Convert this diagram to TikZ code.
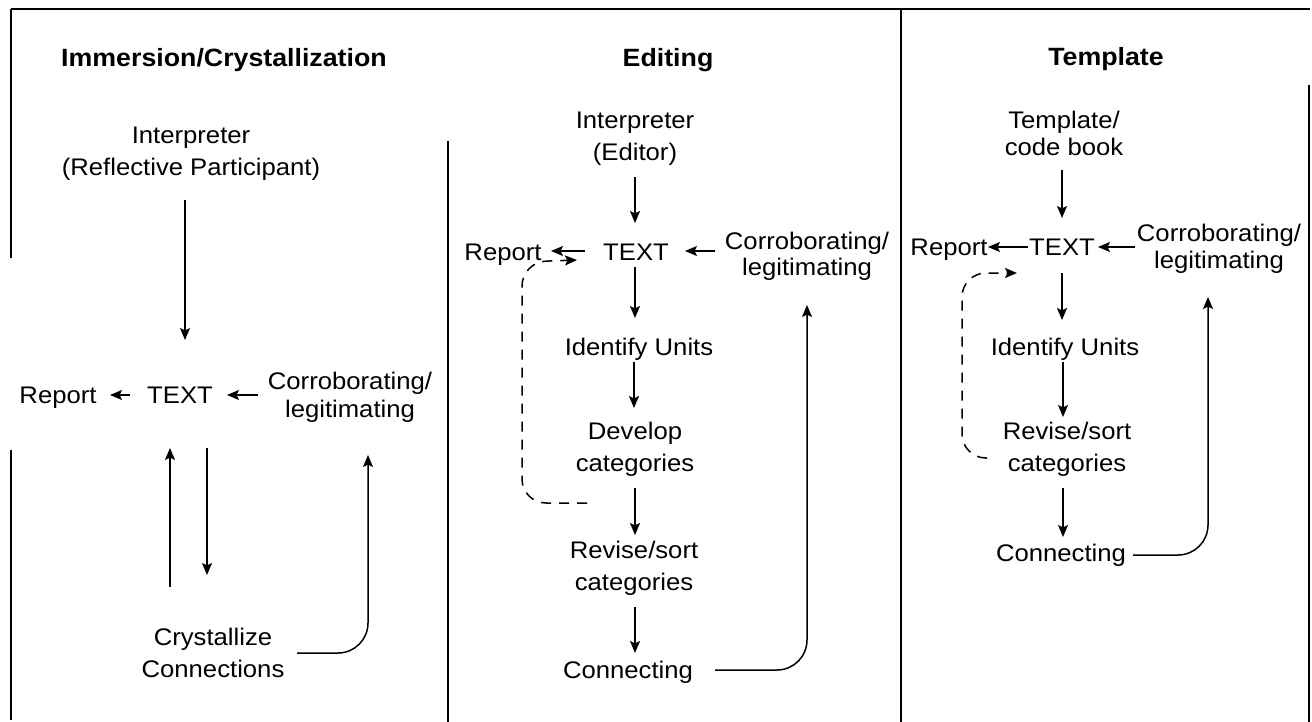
\documentclass[tikz,border=0pt]{standalone}
\usepackage{fontspec}
\setmainfont{Liberation Sans}[FakeStretch=1.07]
\usetikzlibrary{arrows.meta,calc}
\begin{document}
\begin{tikzpicture}[x=0.5pt,y=-0.5pt,
  lbl/.style={inner sep=0pt, align=center, font=\fontsize{12}{16}\selectfont},
  one/.style={lbl, text height=8.6pt, text depth=0pt},
  ttl/.style={one, font=\fontsize{12.5}{15}\selectfont\bfseries},
  arr/.style={line width=0.75pt, -{Stealth[length=6pt,width=5pt,inset=1.2pt]}},
  darr/.style={arr, dash pattern=on 5pt off 4pt, rounded corners=12pt},
  curvedarr/.style={arr, rounded corners=15pt},
  frame/.style={line width=0.9pt}]

\useasboundingbox (0,0) rectangle (1312,722);

% panel rules
\draw[frame] (11,9) -- (1310,9);
\draw[frame] (11,9) -- (11,258);
\draw[frame] (11,450) -- (11,720);
\draw[frame] (448,141) -- (448,722);
\draw[frame] (901,9) -- (901,722);
\draw[frame] (1309,85) -- (1309,722);

% ---- Immersion/Crystallization ----
\node[ttl] (ltitle) at (224,58) {Immersion/Crystallization};
\node[lbl] (linterp) at (191,154) {Interpreter\\(Reflective Participant)};
\node[one] (lrep) at (58,395) {Report};
\node[one] (ltext) at (180,395) {TEXT};
\node[lbl, font=\fontsize{12}{14}\selectfont] (lcorr) at (350,397) {Corroborating/\\legitimating};
\node[lbl] (lcryst) at (213,653) {Crystallize\\Connections};

\draw[arr] ($(linterp)+(-6,46)$) -- ($(ltext)+(5,-55)$);
\draw[arr] ($(ltext)+(-50,0)$) -- ($(lrep)+(52,0)$);
\draw[arr] ($(lcorr)+(-92,-2)$) -- ($(ltext)+(47,0)$);
\draw[arr] ($(ltext)+(27,53)$) -- ($(lcryst)+(-6,-78)$);
\draw[arr] ($(lcryst)+(-43,-66)$) -- ($(ltext)+(-10,53)$);
\draw[curvedarr] ($(lcryst)+(84,0)$) -| ($(lcorr)+(18,58)$);

% ---- Editing ----
\node[ttl] (mtitle) at (668,58) {Editing};
\node[lbl] (minterp) at (635,139) {Interpreter\\(Editor)};
\node[one] (mrep) at (503,252) {Report};
\node[one] (mtext) at (636,252) {TEXT};
\node[lbl, font=\fontsize{12}{13}\selectfont] (mcorr) at (807,256) {Corroborating/\\legitimating};
\node[one] (munits) at (639,347) {Identify Units};
\node[lbl] (mdev) at (635,449) {Develop\\categories};
\node[lbl] (mrev) at (634,568) {Revise/sort\\categories};
\node[one] (mconn) at (628,670) {Connecting};

\draw[arr] ($(minterp)+(0,38)$) -- ($(mtext)+(-1,-29)$);
\draw[arr] ($(mtext)+(-51,-1)$) -- ($(mrep)+(48,-1)$);
\draw[arr] ($(mcorr)+(-92,-5)$) -- ($(mtext)+(49,-1)$);
\draw[arr] ($(mtext)+(-1,15)$) -- ($(munits)+(-4,-29)$);
\draw[arr] ($(munits)+(-5,15)$) -- ($(mdev)+(-1,-41)$);
\draw[arr] ($(mdev)+(0,39)$) -- ($(mrev)+(1,-33)$);
\draw[arr] ($(mrev)+(1,39)$) -- ($(mconn)+(7,-17)$);
\draw[curvedarr] ($(mconn)+(87,0)$) -| ($(mcorr)+(0,49)$);
\draw[darr] ($(mdev)+(-48,54)$) -| ($(mtext)+(-114,10)$) -- ($(mtext)+(-59,8)$);

% ---- Template ----
\node[ttl] (rtitle) at (1106,57) {Template};
\node[lbl, font=\fontsize{12}{13.5}\selectfont] (rtemp) at (1064,133) {Template/\\code book};
\node[one] (rrep) at (949,247) {Report};
\node[one] (rtext) at (1062,247) {TEXT};
\node[lbl, font=\fontsize{12}{13.5}\selectfont] (rcorr) at (1219,249) {Corroborating/\\legitimating};
\node[one] (runits) at (1065,347) {Identify Units};
\node[lbl] (rrev) at (1067,449) {Revise/sort\\categories};
\node[one] (rconn) at (1061,553) {Connecting};

\draw[arr] ($(rtemp)+(-2,37)$) -- ($(rtext)+(0,-29)$);
\draw[arr] ($(rtext)+(-34,0)$) -- ($(rrep)+(39,0)$);
\draw[arr] ($(rcorr)+(-84,-2)$) -- ($(rtext)+(36,0)$);
\draw[arr] ($(rtext)+(0,26)$) -- ($(runits)+(-3,-27)$);
\draw[arr] ($(runits)+(-2,15)$) -- ($(rrev)+(-4,-32)$);
\draw[arr] ($(rrev)+(-4,39)$) -- ($(rconn)+(2,-16)$);
\draw[curvedarr] ($(rconn)+(72,2)$) -| ($(rcorr)+(-11,48)$);
\draw[darr] ($(rrev)+(-80,9)$) -| ($(rtext)+(-100,26)$) -- ($(rtext)+(-45,26)$);
\end{tikzpicture}
\end{document}
